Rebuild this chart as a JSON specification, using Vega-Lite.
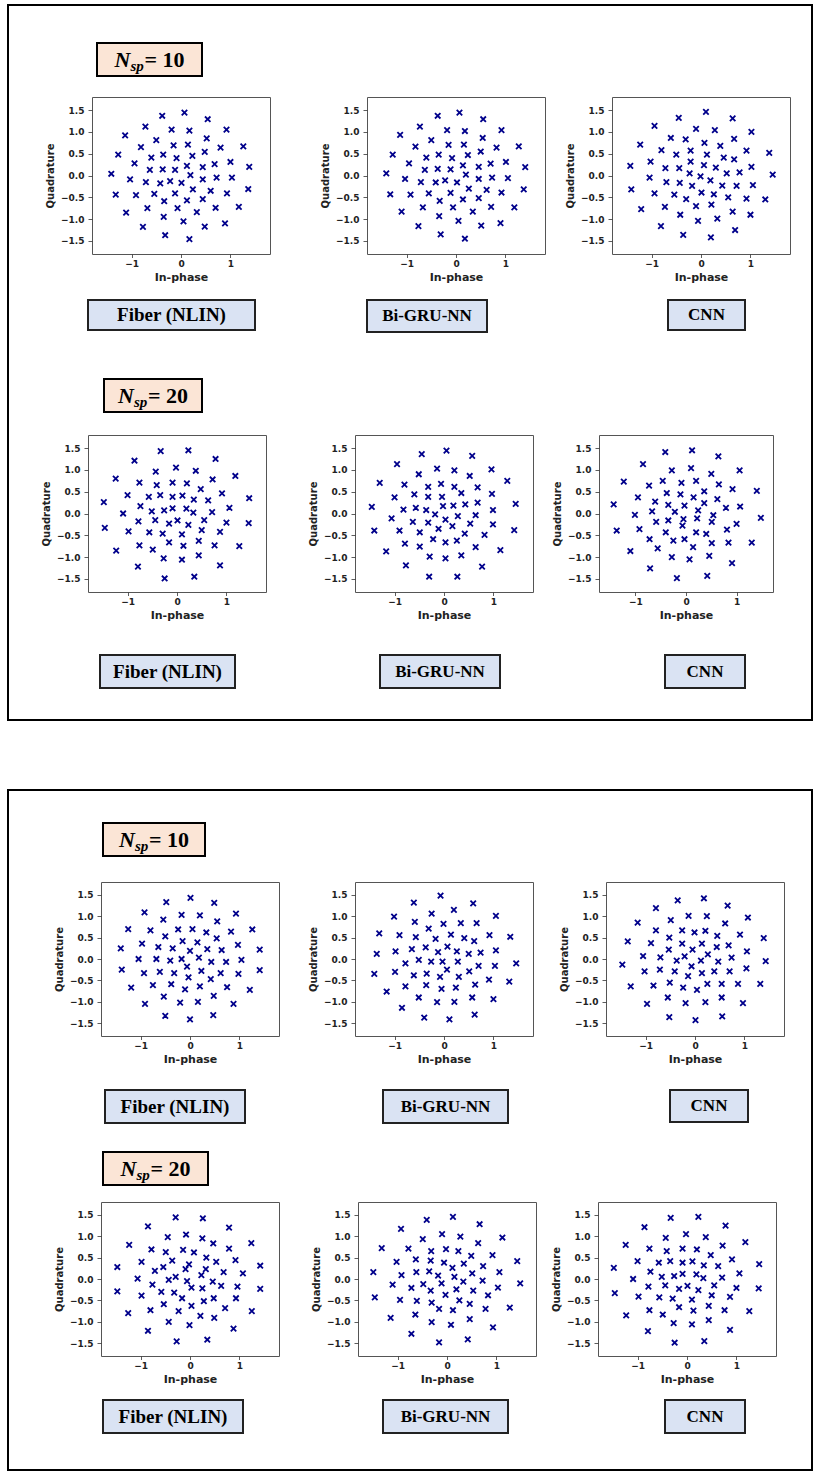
{
"$schema": "https://vega.github.io/schema/vega-lite/v6.json",
"background": "white",
"padding": {"left": 7, "top": 4, "right": 0, "bottom": 0},
"config": {
  "view": {"stroke": "#555", "strokeWidth": 1},
  "axis": {"grid": false, "domain": false, "labelFont": "DejaVu Sans", "labelFontWeight": "bold", "labelFontSize": 9, "labelColor": "#222", "titleFont": "DejaVu Sans", "titleFontWeight": "bold", "titleFontSize": 10, "titleColor": "#222", "tickColor": "#333", "tickWidth": 0.8},
  "axisX": {"tickSize": 3.5, "labelPadding": 2, "titlePadding": 3, "titleFontSize": 11},
  "axisY": {"tickSize": 4, "labelPadding": 4, "titlePadding": 5},
  "point": {"shape": "M-1,-1L1,1M-1,1L1,-1", "filled": false, "size": 30, "strokeWidth": 1.8, "color": "#00008b", "opacity": 1},
  "text": {"font": "Liberation Serif", "fontWeight": "bold", "fontSize": 17, "color": "#000", "baseline": "middle", "align": "center"}
},
"datasets": {
"p1": [{"i":0.07,"q":1.44},{"i":-0.38,"q":1.37},{"i":0.54,"q":1.29},{"i":-0.72,"q":1.12},{"i":-0.19,"q":1.05},{"i":0.17,"q":1.03},{"i":0.92,"q":1.05},{"i":-1.13,"q":0.92},{"i":-0.50,"q":0.81},{"i":0.52,"q":0.85},{"i":-0.81,"q":0.65},{"i":-0.15,"q":0.69},{"i":0.14,"q":0.71},{"i":0.80,"q":0.64},{"i":1.26,"q":0.67},{"i":-1.27,"q":0.48},{"i":-0.60,"q":0.41},{"i":-0.36,"q":0.48},{"i":-0.09,"q":0.40},{"i":0.23,"q":0.45},{"i":0.48,"q":0.54},{"i":-0.94,"q":0.28},{"i":-0.63,"q":0.13},{"i":-0.37,"q":0.14},{"i":-0.12,"q":0.13},{"i":0.12,"q":0.22},{"i":0.44,"q":0.19},{"i":0.68,"q":0.26},{"i":1.00,"q":0.31},{"i":1.38,"q":0.20},{"i":-1.41,"q":0.04},{"i":-1.03,"q":-0.09},{"i":-0.71,"q":-0.15},{"i":-0.42,"q":-0.18},{"i":-0.22,"q":-0.13},{"i":0.01,"q":-0.17},{"i":0.19,"q":0.01},{"i":0.44,"q":-0.09},{"i":0.72,"q":-0.05},{"i":1.03,"q":-0.05},{"i":1.36,"q":-0.31},{"i":-1.32,"q":-0.44},{"i":-0.91,"q":-0.45},{"i":-0.54,"q":-0.42},{"i":-0.12,"q":-0.41},{"i":-0.34,"q":-0.59},{"i":0.12,"q":-0.57},{"i":0.24,"q":-0.32},{"i":0.44,"q":-0.54},{"i":0.60,"q":-0.35},{"i":0.93,"q":-0.41},{"i":1.17,"q":-0.72},{"i":-1.11,"q":-0.85},{"i":-0.68,"q":-0.75},{"i":-0.07,"q":-0.75},{"i":0.32,"q":-0.84},{"i":0.70,"q":-0.74},{"i":-0.35,"q":-0.95},{"i":0.05,"q":-1.05},{"i":0.89,"q":-1.10},{"i":-0.77,"q":-1.18},{"i":0.48,"q":-1.17},{"i":-0.32,"q":-1.37},{"i":0.17,"q":-1.46}],
"p2": [{"i":0.07,"q":1.44},{"i":-0.37,"q":1.37},{"i":0.55,"q":1.29},{"i":-0.73,"q":1.12},{"i":-0.18,"q":1.04},{"i":0.18,"q":1.02},{"i":0.92,"q":1.04},{"i":-1.13,"q":0.93},{"i":-0.50,"q":0.81},{"i":0.54,"q":0.86},{"i":-0.82,"q":0.66},{"i":-0.15,"q":0.70},{"i":0.16,"q":0.71},{"i":0.82,"q":0.64},{"i":-1.28,"q":0.48},{"i":-0.60,"q":0.41},{"i":-0.35,"q":0.48},{"i":-0.08,"q":0.40},{"i":0.24,"q":0.47},{"i":0.50,"q":0.55},{"i":-0.95,"q":0.28},{"i":-0.63,"q":0.13},{"i":-0.37,"q":0.15},{"i":-0.11,"q":0.14},{"i":0.14,"q":0.23},{"i":0.46,"q":0.20},{"i":0.70,"q":0.27},{"i":-1.41,"q":0.05},{"i":-1.03,"q":-0.08},{"i":-0.71,"q":-0.15},{"i":-0.41,"q":-0.16},{"i":-0.22,"q":-0.11},{"i":0.02,"q":-0.16},{"i":0.20,"q":0.02},{"i":0.46,"q":-0.08},{"i":0.73,"q":-0.05},{"i":-1.33,"q":-0.43},{"i":-0.92,"q":-0.44},{"i":-0.55,"q":-0.41},{"i":-0.11,"q":-0.40},{"i":-0.33,"q":-0.58},{"i":0.14,"q":-0.55},{"i":0.26,"q":-0.30},{"i":0.46,"q":-0.52},{"i":0.62,"q":-0.33},{"i":0.92,"q":-0.39},{"i":-1.10,"q":-0.83},{"i":-0.67,"q":-0.73},{"i":-0.06,"q":-0.73},{"i":0.34,"q":-0.83},{"i":0.71,"q":-0.72},{"i":-0.34,"q":-0.93},{"i":0.05,"q":-1.04},{"i":0.90,"q":-1.09},{"i":-0.76,"q":-1.16},{"i":0.51,"q":-1.15},{"i":-0.31,"q":-1.35},{"i":0.18,"q":-1.45},{"i":1.01,"q":0.31},{"i":1.05,"q":-0.06},{"i":1.27,"q":0.67},{"i":1.40,"q":0.19},{"i":1.37,"q":-0.32},{"i":1.18,"q":-0.73}],
"p3": [{"i":0.10,"q":1.46},{"i":-0.45,"q":1.32},{"i":0.64,"q":1.31},{"i":-0.94,"q":1.14},{"i":-0.10,"q":1.07},{"i":0.28,"q":1.04},{"i":-0.61,"q":0.86},{"i":-0.31,"q":0.83},{"i":0.67,"q":0.84},{"i":-1.23,"q":0.71},{"i":0.07,"q":0.75},{"i":0.39,"q":0.68},{"i":-0.80,"q":0.58},{"i":-0.21,"q":0.57},{"i":0.12,"q":0.48},{"i":-0.50,"q":0.48},{"i":0.46,"q":0.41},{"i":0.67,"q":0.37},{"i":0.92,"q":0.57},{"i":-1.02,"q":0.32},{"i":-0.21,"q":0.32},{"i":0.06,"q":0.24},{"i":0.30,"q":0.18},{"i":-0.72,"q":0.17},{"i":-0.44,"q":0.17},{"i":-1.43,"q":0.22},{"i":-0.23,"q":0.05},{"i":0.52,"q":0.05},{"i":0.78,"q":0.07},{"i":-1.04,"q":-0.05},{"i":-0.01,"q":-0.02},{"i":0.19,"q":-0.11},{"i":-0.70,"q":-0.15},{"i":-0.43,"q":-0.17},{"i":-0.18,"q":-0.24},{"i":0.43,"q":-0.23},{"i":0.72,"q":-0.24},{"i":-1.41,"q":-0.32},{"i":-0.94,"q":-0.41},{"i":-0.54,"q":-0.44},{"i":0.01,"q":-0.39},{"i":0.26,"q":-0.43},{"i":-0.30,"q":-0.54},{"i":0.55,"q":-0.50},{"i":0.92,"q":-0.53},{"i":-1.21,"q":-0.77},{"i":-0.73,"q":-0.72},{"i":-0.10,"q":-0.70},{"i":0.21,"q":-0.67},{"i":0.64,"q":-0.83},{"i":-0.42,"q":-0.90},{"i":0.33,"q":-0.99},{"i":-0.06,"q":-1.04},{"i":-0.81,"q":-1.16},{"i":0.69,"q":-1.25},{"i":-0.36,"q":-1.36},{"i":0.20,"q":-1.42},{"i":1.02,"q":1.00},{"i":1.38,"q":0.52},{"i":1.02,"q":0.20},{"i":1.45,"q":0.02},{"i":1.05,"q":-0.22},{"i":1.30,"q":-0.55},{"i":1.00,"q":-0.90}],
"p4": [{"i":0.23,"q":1.45},{"i":-0.33,"q":1.43},{"i":0.78,"q":1.25},{"i":-0.86,"q":1.21},{"i":-0.02,"q":1.05},{"i":0.38,"q":0.98},{"i":-0.43,"q":0.96},{"i":1.18,"q":0.86},{"i":-1.24,"q":0.80},{"i":0.72,"q":0.78},{"i":-0.76,"q":0.71},{"i":-0.09,"q":0.71},{"i":0.20,"q":0.69},{"i":-0.41,"q":0.65},{"i":0.48,"q":0.56},{"i":0.91,"q":0.46},{"i":-1.00,"q":0.42},{"i":-0.57,"q":0.38},{"i":-0.34,"q":0.42},{"i":-0.09,"q":0.38},{"i":0.11,"q":0.41},{"i":0.34,"q":0.32},{"i":0.63,"q":0.30},{"i":1.46,"q":0.35},{"i":-1.48,"q":0.26},{"i":-0.74,"q":0.17},{"i":1.06,"q":0.13},{"i":-0.51,"q":0.05},{"i":-0.26,"q":0.07},{"i":-0.09,"q":0.12},{"i":0.19,"q":0.11},{"i":0.33,"q":0.02},{"i":0.71,"q":0.03},{"i":-1.09,"q":0.00},{"i":-0.78,"q":-0.18},{"i":-0.44,"q":-0.15},{"i":-0.16,"q":-0.23},{"i":0.01,"q":-0.16},{"i":0.23,"q":-0.26},{"i":0.55,"q":-0.15},{"i":1.00,"q":-0.21},{"i":1.45,"q":-0.22},{"i":-1.46,"q":-0.33},{"i":-0.98,"q":-0.41},{"i":-0.56,"q":-0.43},{"i":-0.29,"q":-0.46},{"i":0.10,"q":-0.48},{"i":0.50,"q":-0.38},{"i":0.87,"q":-0.42},{"i":-0.16,"q":-0.66},{"i":0.13,"q":-0.74},{"i":0.44,"q":-0.63},{"i":-0.76,"q":-0.73},{"i":-0.49,"q":-0.83},{"i":0.76,"q":-0.73},{"i":1.26,"q":-0.75},{"i":-1.23,"q":-0.85},{"i":-0.27,"q":-1.03},{"i":0.10,"q":-1.06},{"i":0.44,"q":-0.96},{"i":-0.79,"q":-1.22},{"i":0.87,"q":-1.19},{"i":-0.25,"q":-1.49},{"i":0.35,"q":-1.45}],
"p5": [{"i":0.05,"q":1.44},{"i":-0.45,"q":1.36},{"i":0.57,"q":1.32},{"i":-0.95,"q":1.13},{"i":-0.14,"q":1.03},{"i":0.21,"q":0.99},{"i":0.96,"q":1.01},{"i":-0.51,"q":0.90},{"i":0.52,"q":0.86},{"i":-1.30,"q":0.70},{"i":-0.80,"q":0.66},{"i":-0.06,"q":0.68},{"i":-0.32,"q":0.61},{"i":0.21,"q":0.61},{"i":0.68,"q":0.60},{"i":-0.60,"q":0.44},{"i":-0.32,"q":0.38},{"i":-0.04,"q":0.38},{"i":0.35,"q":0.47},{"i":0.97,"q":0.45},{"i":-1.00,"q":0.37},{"i":-1.46,"q":0.15},{"i":-0.82,"q":0.09},{"i":-0.57,"q":0.13},{"i":-0.36,"q":0.08},{"i":-0.02,"q":0.17},{"i":0.19,"q":0.18},{"i":0.43,"q":0.21},{"i":0.68,"q":0.25},{"i":0.99,"q":0.08},{"i":-1.06,"q":-0.11},{"i":-0.18,"q":-0.02},{"i":0.03,"q":-0.14},{"i":0.28,"q":-0.06},{"i":0.64,"q":-0.04},{"i":-0.63,"q":-0.19},{"i":-0.32,"q":-0.21},{"i":0.17,"q":-0.29},{"i":0.53,"q":-0.23},{"i":0.99,"q":-0.25},{"i":-1.41,"q":-0.39},{"i":-0.90,"q":-0.39},{"i":-0.49,"q":-0.43},{"i":-0.11,"q":-0.35},{"i":0.42,"q":-0.46},{"i":0.82,"q":-0.49},{"i":-0.22,"q":-0.59},{"i":0.03,"q":-0.66},{"i":0.26,"q":-0.62},{"i":-0.79,"q":-0.69},{"i":-0.49,"q":-0.76},{"i":0.64,"q":-0.77},{"i":-1.17,"q":-0.87},{"i":1.14,"q":-0.84},{"i":-0.29,"q":-0.99},{"i":0.03,"q":-1.03},{"i":0.35,"q":-0.96},{"i":-0.77,"q":-1.19},{"i":0.77,"q":-1.22},{"i":-0.30,"q":-1.45},{"i":0.27,"q":-1.45},{"i":1.28,"q":0.75},{"i":1.45,"q":0.22},{"i":1.42,"q":-0.38}],
"p6": [{"i":0.12,"q":1.45},{"i":-0.41,"q":1.41},{"i":0.64,"q":1.31},{"i":-0.85,"q":1.13},{"i":0.10,"q":1.04},{"i":-0.28,"q":0.99},{"i":0.50,"q":0.91},{"i":1.06,"q":0.99},{"i":-1.23,"q":0.73},{"i":-0.73,"q":0.64},{"i":-0.46,"q":0.75},{"i":-0.09,"q":0.70},{"i":0.20,"q":0.75},{"i":0.65,"q":0.67},{"i":0.92,"q":0.56},{"i":-0.95,"q":0.37},{"i":-0.61,"q":0.27},{"i":-0.38,"q":0.47},{"i":-0.11,"q":0.44},{"i":0.15,"q":0.37},{"i":0.36,"q":0.51},{"i":0.62,"q":0.33},{"i":-1.43,"q":0.21},{"i":-0.67,"q":0.05},{"i":-0.35,"q":0.20},{"i":-0.03,"q":0.18},{"i":0.36,"q":0.24},{"i":0.24,"q":0.07},{"i":0.79,"q":0.13},{"i":1.07,"q":0.16},{"i":-1.01,"q":-0.03},{"i":-0.22,"q":0.04},{"i":-0.05,"q":-0.13},{"i":0.22,"q":-0.11},{"i":0.54,"q":-0.04},{"i":-0.59,"q":-0.19},{"i":-0.35,"q":-0.16},{"i":-0.07,"q":-0.28},{"i":0.51,"q":-0.19},{"i":1.00,"q":-0.24},{"i":-1.37,"q":-0.39},{"i":-0.92,"q":-0.36},{"i":-0.40,"q":-0.43},{"i":0.20,"q":-0.43},{"i":0.40,"q":-0.47},{"i":0.81,"q":-0.37},{"i":-0.72,"q":-0.59},{"i":-0.25,"q":-0.62},{"i":-0.03,"q":-0.59},{"i":0.51,"q":-0.68},{"i":0.84,"q":-0.67},{"i":1.30,"q":-0.67},{"i":-1.10,"q":-0.86},{"i":-0.56,"q":-0.80},{"i":0.14,"q":-0.77},{"i":-0.28,"q":-1.00},{"i":0.07,"q":-1.05},{"i":0.46,"q":-0.97},{"i":0.91,"q":-1.14},{"i":-0.71,"q":-1.26},{"i":-0.18,"q":-1.48},{"i":0.42,"q":-1.43},{"i":1.40,"q":0.52},{"i":1.48,"q":-0.10}],
"p7": [{"i":0.01,"q":1.43},{"i":-0.48,"q":1.33},{"i":0.49,"q":1.31},{"i":-0.92,"q":1.09},{"i":-0.17,"q":1.03},{"i":0.20,"q":1.02},{"i":0.93,"q":1.06},{"i":-0.54,"q":0.92},{"i":0.55,"q":0.88},{"i":-1.25,"q":0.70},{"i":-0.80,"q":0.67},{"i":-0.24,"q":0.69},{"i":0.05,"q":0.70},{"i":0.33,"q":0.62},{"i":0.83,"q":0.64},{"i":1.26,"q":0.69},{"i":-0.50,"q":0.53},{"i":-0.15,"q":0.42},{"i":0.15,"q":0.39},{"i":0.54,"q":0.48},{"i":0.97,"q":0.33},{"i":-1.40,"q":0.25},{"i":-0.97,"q":0.36},{"i":-0.64,"q":0.28},{"i":-0.35,"q":0.25},{"i":0.00,"q":0.19},{"i":0.35,"q":0.23},{"i":0.64,"q":0.21},{"i":1.41,"q":0.22},{"i":-1.04,"q":0.00},{"i":-0.68,"q":0.00},{"i":-0.40,"q":-0.04},{"i":-0.17,"q":0.00},{"i":0.18,"q":0.03},{"i":0.43,"q":-0.07},{"i":0.73,"q":-0.07},{"i":1.04,"q":-0.02},{"i":-0.06,"q":-0.18},{"i":-1.38,"q":-0.25},{"i":-0.93,"q":-0.33},{"i":-0.61,"q":-0.30},{"i":-0.32,"q":-0.33},{"i":0.23,"q":-0.28},{"i":0.62,"q":-0.33},{"i":0.98,"q":-0.35},{"i":1.41,"q":-0.26},{"i":-0.03,"q":-0.43},{"i":0.42,"q":-0.47},{"i":-1.19,"q":-0.67},{"i":-0.75,"q":-0.61},{"i":-0.38,"q":-0.59},{"i":-0.10,"q":-0.71},{"i":0.20,"q":-0.64},{"i":0.75,"q":-0.66},{"i":1.21,"q":-0.72},{"i":-0.53,"q":-0.88},{"i":0.48,"q":-0.86},{"i":-0.91,"q":-1.05},{"i":-0.20,"q":-1.02},{"i":0.16,"q":-1.00},{"i":0.88,"q":-1.05},{"i":-0.50,"q":-1.33},{"i":0.00,"q":-1.41},{"i":0.47,"q":-1.31}],
"p8": [{"i":-0.07,"q":1.48},{"i":-0.61,"q":1.32},{"i":0.59,"q":1.30},{"i":-0.25,"q":1.06},{"i":0.20,"q":1.15},{"i":-1.01,"q":0.99},{"i":1.05,"q":1.01},{"i":-0.59,"q":0.87},{"i":-0.01,"q":0.82},{"i":0.34,"q":0.84},{"i":0.66,"q":0.84},{"i":-0.31,"q":0.71},{"i":-1.31,"q":0.60},{"i":-0.90,"q":0.56},{"i":-0.57,"q":0.51},{"i":-0.17,"q":0.47},{"i":0.14,"q":0.57},{"i":0.41,"q":0.49},{"i":0.61,"q":0.42},{"i":0.92,"q":0.56},{"i":1.34,"q":0.52},{"i":-0.65,"q":0.23},{"i":-0.37,"q":0.27},{"i":0.07,"q":0.29},{"i":-0.12,"q":0.16},{"i":0.26,"q":0.18},{"i":0.50,"q":0.12},{"i":0.74,"q":0.15},{"i":1.05,"q":0.20},{"i":-1.36,"q":0.12},{"i":-0.98,"q":0.18},{"i":-0.78,"q":-0.10},{"i":-0.51,"q":-0.02},{"i":-0.26,"q":-0.06},{"i":-0.03,"q":-0.06},{"i":0.28,"q":-0.06},{"i":0.70,"q":-0.16},{"i":1.03,"q":-0.16},{"i":-1.41,"q":-0.35},{"i":-0.99,"q":-0.30},{"i":-0.61,"q":-0.38},{"i":-0.35,"q":-0.34},{"i":-0.08,"q":-0.42},{"i":0.06,"q":-0.25},{"i":0.30,"q":-0.42},{"i":0.51,"q":-0.29},{"i":0.63,"q":-0.60},{"i":0.91,"q":-0.48},{"i":1.32,"q":-0.53},{"i":-1.16,"q":-0.76},{"i":-0.78,"q":-0.64},{"i":-0.36,"q":-0.61},{"i":-0.05,"q":-0.70},{"i":0.24,"q":-0.67},{"i":-0.51,"q":-0.90},{"i":-0.14,"q":-1.01},{"i":0.21,"q":-1.00},{"i":0.57,"q":-0.90},{"i":1.00,"q":-0.94},{"i":-0.85,"q":-1.14},{"i":-0.40,"q":-1.37},{"i":0.11,"q":-1.41},{"i":0.62,"q":-1.30},{"i":1.46,"q":-0.10}],
"p9": [{"i":0.18,"q":1.42},{"i":-0.35,"q":1.37},{"i":0.66,"q":1.25},{"i":-0.79,"q":1.19},{"i":-0.13,"q":1.01},{"i":0.24,"q":1.00},{"i":1.07,"q":0.97},{"i":-1.16,"q":0.85},{"i":-0.49,"q":0.91},{"i":0.61,"q":0.83},{"i":-0.79,"q":0.67},{"i":-0.26,"q":0.67},{"i":-0.01,"q":0.62},{"i":0.21,"q":0.66},{"i":0.91,"q":0.57},{"i":1.39,"q":0.49},{"i":-1.36,"q":0.41},{"i":-0.89,"q":0.37},{"i":-0.52,"q":0.50},{"i":-0.26,"q":0.36},{"i":0.14,"q":0.36},{"i":0.45,"q":0.54},{"i":0.68,"q":0.32},{"i":-0.53,"q":0.22},{"i":-0.05,"q":0.22},{"i":0.44,"q":0.28},{"i":0.26,"q":0.11},{"i":1.05,"q":0.18},{"i":-1.05,"q":0.07},{"i":-0.70,"q":0.04},{"i":-0.21,"q":0.06},{"i":0.74,"q":0.03},{"i":-1.47,"q":-0.13},{"i":-0.37,"q":-0.04},{"i":0.12,"q":-0.04},{"i":0.47,"q":-0.06},{"i":1.43,"q":-0.05},{"i":-0.07,"q":-0.17},{"i":-1.02,"q":-0.29},{"i":-0.71,"q":-0.25},{"i":-0.41,"q":-0.29},{"i":0.14,"q":-0.33},{"i":0.39,"q":-0.29},{"i":0.70,"q":-0.29},{"i":1.04,"q":-0.22},{"i":-0.14,"q":-0.40},{"i":-1.30,"q":-0.64},{"i":-0.84,"q":-0.62},{"i":-0.51,"q":-0.55},{"i":-0.24,"q":-0.67},{"i":0.04,"q":-0.72},{"i":0.25,"q":-0.58},{"i":0.54,"q":-0.58},{"i":0.87,"q":-0.58},{"i":1.32,"q":-0.58},{"i":-0.55,"q":-0.90},{"i":0.54,"q":-0.90},{"i":-0.97,"q":-1.05},{"i":-0.19,"q":-1.03},{"i":0.21,"q":-1.01},{"i":0.97,"q":-1.03},{"i":-0.52,"q":-1.36},{"i":0.01,"q":-1.43},{"i":0.55,"q":-1.34}],
"p10": [{"i":-0.29,"q":1.44},{"i":0.26,"q":1.42},{"i":-0.85,"q":1.23},{"i":0.79,"q":1.20},{"i":-0.45,"q":0.98},{"i":-0.08,"q":1.04},{"i":0.25,"q":0.95},{"i":-1.23,"q":0.80},{"i":-0.78,"q":0.69},{"i":-0.49,"q":0.63},{"i":-0.14,"q":0.68},{"i":0.08,"q":0.62},{"i":0.47,"q":0.83},{"i":0.79,"q":0.71},{"i":1.24,"q":0.84},{"i":-0.98,"q":0.40},{"i":-0.36,"q":0.43},{"i":-0.02,"q":0.34},{"i":0.33,"q":0.50},{"i":0.53,"q":0.40},{"i":0.92,"q":0.44},{"i":-1.47,"q":0.28},{"i":-0.71,"q":0.19},{"i":-0.54,"q":0.28},{"i":-0.09,"q":0.23},{"i":0.32,"q":0.23},{"i":0.68,"q":0.16},{"i":1.07,"q":0.13},{"i":1.42,"q":0.31},{"i":-1.06,"q":0.01},{"i":-0.29,"q":0.05},{"i":-0.43,"q":-0.02},{"i":-0.06,"q":-0.05},{"i":0.23,"q":0.09},{"i":0.46,"q":-0.06},{"i":-0.76,"q":-0.13},{"i":0.03,"q":-0.20},{"i":0.25,"q":-0.22},{"i":0.63,"q":-0.16},{"i":0.96,"q":-0.18},{"i":-1.47,"q":-0.29},{"i":-0.98,"q":-0.39},{"i":-0.58,"q":-0.30},{"i":-0.32,"q":-0.32},{"i":-0.16,"q":-0.45},{"i":0.28,"q":-0.52},{"i":0.48,"q":-0.45},{"i":0.93,"q":-0.45},{"i":1.42,"q":-0.23},{"i":-0.53,"q":-0.59},{"i":-0.80,"q":-0.73},{"i":-0.23,"q":-0.75},{"i":0.03,"q":-0.63},{"i":0.71,"q":-0.68},{"i":1.25,"q":-0.75},{"i":-1.25,"q":-0.80},{"i":-0.43,"q":-1.00},{"i":-0.01,"q":-1.08},{"i":0.21,"q":-0.86},{"i":0.49,"q":-0.91},{"i":-0.85,"q":-1.21},{"i":0.88,"q":-1.16},{"i":-0.27,"q":-1.46},{"i":0.35,"q":-1.42}],
"p11": [{"i":0.12,"q":1.45},{"i":-0.41,"q":1.38},{"i":0.66,"q":1.28},{"i":-0.93,"q":1.17},{"i":-0.10,"q":1.05},{"i":0.27,"q":0.99},{"i":1.12,"q":0.97},{"i":-0.49,"q":0.93},{"i":0.63,"q":0.84},{"i":-1.32,"q":0.72},{"i":-0.78,"q":0.71},{"i":-0.32,"q":0.65},{"i":-0.02,"q":0.70},{"i":0.23,"q":0.65},{"i":0.49,"q":0.54},{"i":0.92,"q":0.56},{"i":-1.02,"q":0.40},{"i":-0.63,"q":0.46},{"i":-0.33,"q":0.43},{"i":-0.06,"q":0.38},{"i":0.34,"q":0.36},{"i":0.73,"q":0.30},{"i":-1.49,"q":0.16},{"i":-0.92,"q":0.09},{"i":-0.62,"q":0.16},{"i":-0.36,"q":0.18},{"i":-0.18,"q":0.08},{"i":0.11,"q":0.26},{"i":0.15,"q":0.05},{"i":0.51,"q":0.13},{"i":1.06,"q":0.16},{"i":-1.10,"q":-0.13},{"i":-0.72,"q":-0.21},{"i":-0.48,"q":-0.12},{"i":-0.11,"q":-0.10},{"i":0.33,"q":-0.06},{"i":0.72,"q":-0.04},{"i":-0.33,"q":-0.27},{"i":0.19,"q":-0.24},{"i":0.53,"q":-0.27},{"i":1.03,"q":-0.20},{"i":-1.46,"q":-0.43},{"i":-0.95,"q":-0.49},{"i":-0.61,"q":-0.51},{"i":-0.31,"q":-0.55},{"i":-0.03,"q":-0.37},{"i":0.25,"q":-0.50},{"i":0.46,"q":-0.58},{"i":0.83,"q":-0.38},{"i":1.27,"q":-0.67},{"i":-0.16,"q":-0.70},{"i":0.12,"q":-0.73},{"i":0.78,"q":-0.70},{"i":-1.14,"q":-0.91},{"i":-0.64,"q":-0.83},{"i":-0.31,"q":-1.01},{"i":0.08,"q":-1.07},{"i":0.46,"q":-0.94},{"i":0.93,"q":-1.13},{"i":-0.72,"q":-1.28},{"i":-0.16,"q":-1.48},{"i":0.42,"q":-1.41},{"i":1.42,"q":0.42},{"i":1.48,"q":-0.10}]
},
"vconcat": [
 {"vconcat": [
   {"width": 806, "height": 2, "data": {"values": []}, "mark": "point", "view": {"fill": "#000", "stroke": null}},
   {"hconcat": [
     {"width": 2, "height": 713, "data": {"values": []}, "mark": "point", "view": {"fill": "#000", "stroke": null}},
     {"vconcat": [
       {"width": 802, "height": 36, "data": {"values": []}, "mark": "point", "view": {"stroke": null}},
       {"hconcat": [
         {"width": 88, "height": 53, "data": {"values": []}, "mark": "point", "view": {"stroke": null}},
         {"width": 105, "height": 33, "data": {"values": [{}]}, "view": {"fill": "#fbe5d6", "stroke": "#000", "strokeWidth": 2}, "layer": [
           {"mark": {"type": "text", "text": "N", "fontStyle": "italic", "fontSize": 22, "align": "right", "dx": -19}},
           {"mark": {"type": "text", "text": "sp", "fontStyle": "italic", "fontSize": 15, "align": "left", "dx": -19, "dy": 6}},
           {"mark": {"type": "text", "text": "= 10", "fontSize": 22, "align": "left", "dx": -5}}]}
       ], "spacing": 0, "bounds": "flush"},
       {"hconcat": [
         {"width": 83, "height": 202, "data": {"values": []}, "mark": "point", "view": {"stroke": null}},
         {"width": 178, "height": 157, "data": {"name": "p1"}, "mark": "point", "encoding": {"x": {"field": "i", "type": "quantitative", "scale": {"domain": [-1.8, 1.8], "nice": false, "zero": false}, "axis": {"values": [-1, 0, 1], "format": ".0f"}, "title": "In-phase"}, "y": {"field": "q", "type": "quantitative", "scale": {"domain": [-1.8, 1.8], "nice": false, "zero": false}, "axis": {"values": [-1.5, -1, -0.5, 0, 0.5, 1, 1.5], "format": ".1f"}, "title": "Quadrature"}}},
         {"width": 97, "height": 1, "data": {"values": []}, "mark": "point", "view": {"stroke": null}},
         {"width": 178, "height": 157, "data": {"name": "p2"}, "mark": "point", "encoding": {"x": {"field": "i", "type": "quantitative", "scale": {"domain": [-1.8, 1.8], "nice": false, "zero": false}, "axis": {"values": [-1, 0, 1], "format": ".0f"}, "title": "In-phase"}, "y": {"field": "q", "type": "quantitative", "scale": {"domain": [-1.8, 1.8], "nice": false, "zero": false}, "axis": {"values": [-1.5, -1, -0.5, 0, 0.5, 1, 1.5], "format": ".1f"}, "title": "Quadrature"}}},
         {"width": 67, "height": 1, "data": {"values": []}, "mark": "point", "view": {"stroke": null}},
         {"width": 178, "height": 157, "data": {"name": "p3"}, "mark": "point", "encoding": {"x": {"field": "i", "type": "quantitative", "scale": {"domain": [-1.8, 1.8], "nice": false, "zero": false}, "axis": {"values": [-1, 0, 1], "format": ".0f"}, "title": "In-phase"}, "y": {"field": "q", "type": "quantitative", "scale": {"domain": [-1.8, 1.8], "nice": false, "zero": false}, "axis": {"values": [-1.5, -1, -0.5, 0, 0.5, 1, 1.5], "format": ".1f"}, "title": "Quadrature"}}}
       ], "spacing": 0, "bounds": "flush"},
       {"hconcat": [
         {"width": 79, "height": 78, "data": {"values": []}, "mark": "point", "view": {"stroke": null}},
         {"width": 167, "height": 30, "data": {"values": [{"t": "Fiber (NLIN)"}]}, "mark": {"type": "text", "fontSize": 19}, "encoding": {"text": {"field": "t"}}, "view": {"fill": "#dae3f3", "stroke": "#222", "strokeWidth": 2}},
         {"width": 112, "height": 1, "data": {"values": []}, "mark": "point", "view": {"stroke": null}},
         {"width": 120, "height": 32, "data": {"values": [{"t": "Bi-GRU-NN"}]}, "mark": "text", "encoding": {"text": {"field": "t"}}, "view": {"fill": "#dae3f3", "stroke": "#222", "strokeWidth": 2}},
         {"width": 181, "height": 1, "data": {"values": []}, "mark": "point", "view": {"stroke": null}},
         {"width": 77, "height": 30, "data": {"values": [{"t": "CNN"}]}, "mark": "text", "encoding": {"text": {"field": "t"}}, "view": {"fill": "#dae3f3", "stroke": "#222", "strokeWidth": 2}}
       ], "spacing": 0, "bounds": "flush"},
       {"hconcat": [
         {"width": 95, "height": 55, "data": {"values": []}, "mark": "point", "view": {"stroke": null}},
         {"width": 98, "height": 33, "data": {"values": [{}]}, "view": {"fill": "#fbe5d6", "stroke": "#000", "strokeWidth": 2}, "layer": [
           {"mark": {"type": "text", "text": "N", "fontStyle": "italic", "fontSize": 22, "align": "right", "dx": -19}},
           {"mark": {"type": "text", "text": "sp", "fontStyle": "italic", "fontSize": 15, "align": "left", "dx": -19, "dy": 6}},
           {"mark": {"type": "text", "text": "= 20", "fontSize": 22, "align": "left", "dx": -5}}]}
       ], "spacing": 0, "bounds": "flush"},
       {"hconcat": [
         {"width": 79, "height": 219, "data": {"values": []}, "mark": "point", "view": {"stroke": null}},
         {"width": 178, "height": 157, "data": {"name": "p4"}, "mark": "point", "encoding": {"x": {"field": "i", "type": "quantitative", "scale": {"domain": [-1.8, 1.8], "nice": false, "zero": false}, "axis": {"values": [-1, 0, 1], "format": ".0f"}, "title": "In-phase"}, "y": {"field": "q", "type": "quantitative", "scale": {"domain": [-1.8, 1.8], "nice": false, "zero": false}, "axis": {"values": [-1.5, -1, -0.5, 0, 0.5, 1, 1.5], "format": ".1f"}, "title": "Quadrature"}}},
         {"width": 89, "height": 1, "data": {"values": []}, "mark": "point", "view": {"stroke": null}},
         {"width": 178, "height": 157, "data": {"name": "p5"}, "mark": "point", "encoding": {"x": {"field": "i", "type": "quantitative", "scale": {"domain": [-1.8, 1.8], "nice": false, "zero": false}, "axis": {"values": [-1, 0, 1], "format": ".0f"}, "title": "In-phase"}, "y": {"field": "q", "type": "quantitative", "scale": {"domain": [-1.8, 1.8], "nice": false, "zero": false}, "axis": {"values": [-1.5, -1, -0.5, 0, 0.5, 1, 1.5], "format": ".1f"}, "title": "Quadrature"}}},
         {"width": 66, "height": 1, "data": {"values": []}, "mark": "point", "view": {"stroke": null}},
         {"width": 174, "height": 157, "data": {"name": "p6"}, "mark": "point", "encoding": {"x": {"field": "i", "type": "quantitative", "scale": {"domain": [-1.72, 1.72], "nice": false, "zero": false}, "axis": {"values": [-1, 0, 1], "format": ".0f"}, "title": "In-phase"}, "y": {"field": "q", "type": "quantitative", "scale": {"domain": [-1.8, 1.8], "nice": false, "zero": false}, "axis": {"values": [-1.5, -1, -0.5, 0, 0.5, 1, 1.5], "format": ".1f"}, "title": "Quadrature"}}}
       ], "spacing": 0, "bounds": "flush"},
       {"hconcat": [
         {"width": 91, "height": 33, "data": {"values": []}, "mark": "point", "view": {"stroke": null}},
         {"width": 135, "height": 33, "data": {"values": [{"t": "Fiber (NLIN)"}]}, "mark": {"type": "text", "fontSize": 19}, "encoding": {"text": {"field": "t"}}, "view": {"fill": "#dae3f3", "stroke": "#222", "strokeWidth": 2}},
         {"width": 145, "height": 1, "data": {"values": []}, "mark": "point", "view": {"stroke": null}},
         {"width": 120, "height": 33, "data": {"values": [{"t": "Bi-GRU-NN"}]}, "mark": "text", "encoding": {"text": {"field": "t"}}, "view": {"fill": "#dae3f3", "stroke": "#222", "strokeWidth": 2}},
         {"width": 165, "height": 1, "data": {"values": []}, "mark": "point", "view": {"stroke": null}},
         {"width": 80, "height": 33, "data": {"values": [{"t": "CNN"}]}, "mark": "text", "encoding": {"text": {"field": "t"}}, "view": {"fill": "#dae3f3", "stroke": "#222", "strokeWidth": 2}}
       ], "spacing": 0, "bounds": "flush"}
     ], "spacing": 0, "bounds": "full"},
     {"width": 2, "height": 713, "data": {"values": []}, "mark": "point", "view": {"fill": "#000", "stroke": null}}
   ], "spacing": 0, "bounds": "full"},
   {"width": 806, "height": 2, "data": {"values": []}, "mark": "point", "view": {"fill": "#000", "stroke": null}}
 ], "spacing": 0, "bounds": "full"},
 {"vconcat": [
   {"width": 806, "height": 2, "data": {"values": []}, "mark": "point", "view": {"fill": "#000", "stroke": null}},
   {"hconcat": [
     {"width": 2, "height": 678, "data": {"values": []}, "mark": "point", "view": {"fill": "#000", "stroke": null}},
     {"vconcat": [
       {"width": 802, "height": 31, "data": {"values": []}, "mark": "point", "view": {"stroke": null}},
       {"hconcat": [
         {"width": 94, "height": 58, "data": {"values": []}, "mark": "point", "view": {"stroke": null}},
         {"width": 102, "height": 33, "data": {"values": [{}]}, "view": {"fill": "#fbe5d6", "stroke": "#000", "strokeWidth": 2}, "layer": [
           {"mark": {"type": "text", "text": "N", "fontStyle": "italic", "fontSize": 22, "align": "right", "dx": -19}},
           {"mark": {"type": "text", "text": "sp", "fontStyle": "italic", "fontSize": 15, "align": "left", "dx": -19, "dy": 6}},
           {"mark": {"type": "text", "text": "= 10", "fontSize": 22, "align": "left", "dx": -5}}]}
       ], "spacing": 0, "bounds": "flush"},
       {"hconcat": [
         {"width": 92, "height": 207, "data": {"values": []}, "mark": "point", "view": {"stroke": null}},
         {"width": 178, "height": 154, "data": {"name": "p7"}, "mark": "point", "encoding": {"x": {"field": "i", "type": "quantitative", "scale": {"domain": [-1.8, 1.8], "nice": false, "zero": false}, "axis": {"values": [-1, 0, 1], "format": ".0f"}, "title": "In-phase"}, "y": {"field": "q", "type": "quantitative", "scale": {"domain": [-1.8, 1.8], "nice": false, "zero": false}, "axis": {"values": [-1.5, -1, -0.5, 0, 0.5, 1, 1.5], "format": ".1f"}, "title": "Quadrature"}}},
         {"width": 76, "height": 1, "data": {"values": []}, "mark": "point", "view": {"stroke": null}},
         {"width": 178, "height": 154, "data": {"name": "p8"}, "mark": "point", "encoding": {"x": {"field": "i", "type": "quantitative", "scale": {"domain": [-1.8, 1.8], "nice": false, "zero": false}, "axis": {"values": [-1, 0, 1], "format": ".0f"}, "title": "In-phase"}, "y": {"field": "q", "type": "quantitative", "scale": {"domain": [-1.8, 1.8], "nice": false, "zero": false}, "axis": {"values": [-1.5, -1, -0.5, 0, 0.5, 1, 1.5], "format": ".1f"}, "title": "Quadrature"}}},
         {"width": 73, "height": 1, "data": {"values": []}, "mark": "point", "view": {"stroke": null}},
         {"width": 178, "height": 154, "data": {"name": "p9"}, "mark": "point", "encoding": {"x": {"field": "i", "type": "quantitative", "scale": {"domain": [-1.8, 1.8], "nice": false, "zero": false}, "axis": {"values": [-1, 0, 1], "format": ".0f"}, "title": "In-phase"}, "y": {"field": "q", "type": "quantitative", "scale": {"domain": [-1.8, 1.8], "nice": false, "zero": false}, "axis": {"values": [-1.5, -1, -0.5, 0, 0.5, 1, 1.5], "format": ".1f"}, "title": "Quadrature"}}}
       ], "spacing": 0, "bounds": "flush"},
       {"hconcat": [
         {"width": 96, "height": 61, "data": {"values": []}, "mark": "point", "view": {"stroke": null}},
         {"width": 140, "height": 33, "data": {"values": [{"t": "Fiber (NLIN)"}]}, "mark": {"type": "text", "fontSize": 19}, "encoding": {"text": {"field": "t"}}, "view": {"fill": "#dae3f3", "stroke": "#222", "strokeWidth": 2}},
         {"width": 138, "height": 1, "data": {"values": []}, "mark": "point", "view": {"stroke": null}},
         {"width": 125, "height": 33, "data": {"values": [{"t": "Bi-GRU-NN"}]}, "mark": "text", "encoding": {"text": {"field": "t"}}, "view": {"fill": "#dae3f3", "stroke": "#222", "strokeWidth": 2}},
         {"width": 162, "height": 1, "data": {"values": []}, "mark": "point", "view": {"stroke": null}},
         {"width": 78, "height": 32, "data": {"values": [{"t": "CNN"}]}, "mark": "text", "encoding": {"text": {"field": "t"}}, "view": {"fill": "#dae3f3", "stroke": "#222", "strokeWidth": 2}}
       ], "spacing": 0, "bounds": "flush"},
       {"hconcat": [
         {"width": 94, "height": 49, "data": {"values": []}, "mark": "point", "view": {"stroke": null}},
         {"width": 105, "height": 33, "data": {"values": [{}]}, "view": {"fill": "#fbe5d6", "stroke": "#000", "strokeWidth": 2}, "layer": [
           {"mark": {"type": "text", "text": "N", "fontStyle": "italic", "fontSize": 22, "align": "right", "dx": -19}},
           {"mark": {"type": "text", "text": "sp", "fontStyle": "italic", "fontSize": 15, "align": "left", "dx": -19, "dy": 6}},
           {"mark": {"type": "text", "text": "= 20", "fontSize": 22, "align": "left", "dx": -5}}]}
       ], "spacing": 0, "bounds": "flush"},
       {"hconcat": [
         {"width": 92, "height": 197, "data": {"values": []}, "mark": "point", "view": {"stroke": null}},
         {"width": 178, "height": 154, "data": {"name": "p10"}, "mark": "point", "encoding": {"x": {"field": "i", "type": "quantitative", "scale": {"domain": [-1.8, 1.8], "nice": false, "zero": false}, "axis": {"values": [-1, 0, 1], "format": ".0f"}, "title": "In-phase"}, "y": {"field": "q", "type": "quantitative", "scale": {"domain": [-1.8, 1.8], "nice": false, "zero": false}, "axis": {"values": [-1.5, -1, -0.5, 0, 0.5, 1, 1.5], "format": ".1f"}, "title": "Quadrature"}}},
         {"width": 79, "height": 1, "data": {"values": []}, "mark": "point", "view": {"stroke": null}},
         {"width": 178, "height": 154, "data": {"name": "p11"}, "mark": "point", "encoding": {"x": {"field": "i", "type": "quantitative", "scale": {"domain": [-1.8, 1.8], "nice": false, "zero": false}, "axis": {"values": [-1, 0, 1], "format": ".0f"}, "title": "In-phase"}, "y": {"field": "q", "type": "quantitative", "scale": {"domain": [-1.8, 1.8], "nice": false, "zero": false}, "axis": {"values": [-1.5, -1, -0.5, 0, 0.5, 1, 1.5], "format": ".1f"}, "title": "Quadrature"}}},
         {"width": 62, "height": 1, "data": {"values": []}, "mark": "point", "view": {"stroke": null}},
         {"width": 178, "height": 154, "data": {"name": "p4"}, "mark": "point", "encoding": {"x": {"field": "i", "type": "quantitative", "scale": {"domain": [-1.8, 1.8], "nice": false, "zero": false}, "axis": {"values": [-1, 0, 1], "format": ".0f"}, "title": "In-phase"}, "y": {"field": "q", "type": "quantitative", "scale": {"domain": [-1.8, 1.8], "nice": false, "zero": false}, "axis": {"values": [-1.5, -1, -0.5, 0, 0.5, 1, 1.5], "format": ".1f"}, "title": "Quadrature"}}}
       ], "spacing": 0, "bounds": "flush"},
       {"hconcat": [
         {"width": 94, "height": 33, "data": {"values": []}, "mark": "point", "view": {"stroke": null}},
         {"width": 140, "height": 33, "data": {"values": [{"t": "Fiber (NLIN)"}]}, "mark": {"type": "text", "fontSize": 19}, "encoding": {"text": {"field": "t"}}, "view": {"fill": "#dae3f3", "stroke": "#222", "strokeWidth": 2}},
         {"width": 140, "height": 1, "data": {"values": []}, "mark": "point", "view": {"stroke": null}},
         {"width": 125, "height": 33, "data": {"values": [{"t": "Bi-GRU-NN"}]}, "mark": "text", "encoding": {"text": {"field": "t"}}, "view": {"fill": "#dae3f3", "stroke": "#222", "strokeWidth": 2}},
         {"width": 157, "height": 1, "data": {"values": []}, "mark": "point", "view": {"stroke": null}},
         {"width": 80, "height": 33, "data": {"values": [{"t": "CNN"}]}, "mark": "text", "encoding": {"text": {"field": "t"}}, "view": {"fill": "#dae3f3", "stroke": "#222", "strokeWidth": 2}}
       ], "spacing": 0, "bounds": "flush"}
     ], "spacing": 0, "bounds": "full"},
     {"width": 2, "height": 678, "data": {"values": []}, "mark": "point", "view": {"fill": "#000", "stroke": null}}
   ], "spacing": 0, "bounds": "full"},
   {"width": 806, "height": 2, "data": {"values": []}, "mark": "point", "view": {"fill": "#000", "stroke": null}}
 ], "spacing": 0, "bounds": "full"}
],
"spacing": 68,
"bounds": "full"
}
